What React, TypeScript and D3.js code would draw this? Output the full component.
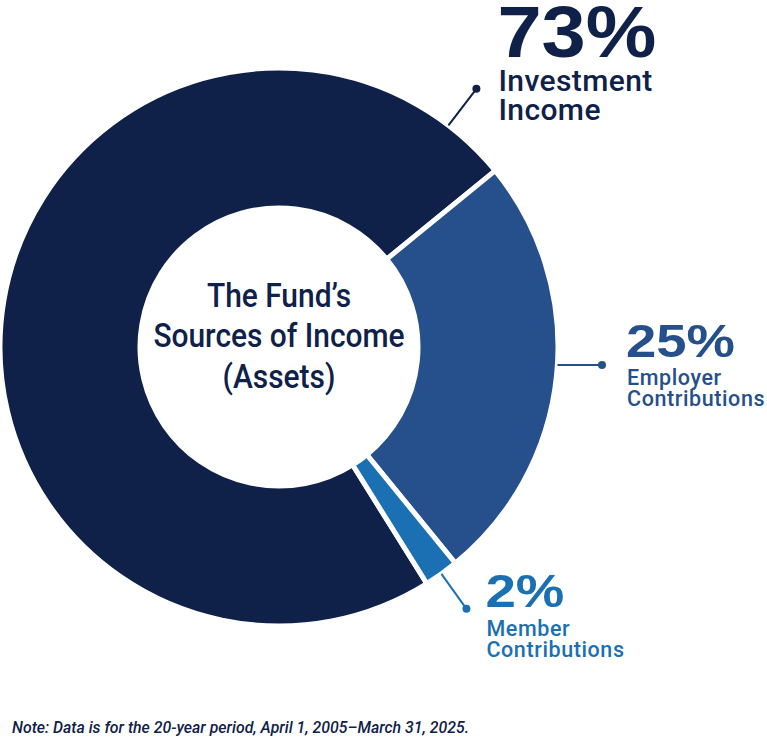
import * as d3 from 'd3';

const categories = ['Investment Income', 'Employer Contributions', 'Member Contributions'];
const labelLines = [['Investment', 'Income'], ['Employer', 'Contributions'], ['Member', 'Contributions']];
const shares = [73, 25, 2];
const colors = ['#0f2149', '#25508c', '#1a70b3'];
const centerTitle = ['The Fund\u2019s', 'Sources of Income', '(Assets)'];
const note = 'Note: Data is for the 20-year period, April 1, 2005\u2013March 31, 2025.';

const W = 767;
const H = 740;
const cx = 279;
const cy = 347;
const outerR = 279;
const innerR = 139;
const deg = Math.PI / 180;

// leader + label layout per slice (pctWidth stretches the wide percent glyphs)
const leaders = [
  { kind: 'radial', angle: 37.4, len: 325, tx: 21, pctY: -32, pctSize: 73, pctWidth: 159, nameSize: 30, nameY: 34, lineGap: 29, nameSpacing: 0.4 },
  { kind: 'horizontal', dy: 18, x: 602, tx: 24, pctY: -8, pctSize: 46, pctWidth: 109, nameSize: 21.5, nameY: 28, lineGap: 20.5, nameSpacing: 0.6 },
  { kind: 'radial', angle: null, len: 322, tx: 19, pctY: -2, pctSize: 46, pctWidth: 79, nameSize: 21.5, nameY: 29, lineGap: 21, nameSpacing: 0.6 },
];

export default function App() {
  const pie = d3.pie<number>().sort(null).value(d => d)
    .startAngle(-212 * deg).endAngle(-212 * deg + 2 * Math.PI);
  const arcs = pie(shares);
  const arc = d3.arc<d3.PieArcDatum<number>>().innerRadius(innerR).outerRadius(outerR);

  const polar = (a: number, r: number): [number, number] => [cx + r * Math.sin(a), cy - r * Math.cos(a)];

  return (
    <svg width={W} height={H} style={{ position: 'absolute', left: 0, top: 0, background: '#fff' }}
      fontFamily="'Liberation Sans', Arial, sans-serif">
      <g transform={`translate(${cx},${cy})`}>
        {arcs.map((a, i) => (
          <path key={categories[i]} d={arc(a) || ''} fill={colors[i]} stroke="#fff" strokeWidth={5} strokeLinejoin="miter" />
        ))}
      </g>
      {arcs.map((a, i) => {
        const L = leaders[i];
        let p0: [number, number];
        let p1: [number, number];
        if (L.kind === 'horizontal') {
          const y = cy + (L.dy as number);
          const x0 = cx + Math.sqrt(outerR * outerR - (L.dy as number) ** 2);
          p0 = [x0, y];
          p1 = [L.x as number, y];
        } else {
          const ang = L.angle == null ? (a.startAngle + a.endAngle) / 2 : (L.angle as number) * deg;
          p0 = polar(ang, outerR);
          p1 = polar(ang, L.len as number);
        }
        const tx = p1[0] + L.tx;
        const pctBase = p1[1] + L.pctY;
        return (
          <g key={categories[i]} fill={colors[i]}>
            <line x1={p0[0]} y1={p0[1]} x2={p1[0]} y2={p1[1]} stroke={colors[i]} strokeWidth={2} />
            <circle cx={p1[0]} cy={p1[1]} r={4} />
            <text x={tx} y={pctBase} fontSize={L.pctSize} fontWeight="bold"
              textLength={L.pctWidth} lengthAdjust="spacingAndGlyphs">
              {d3.format('d')(shares[i])}%
            </text>
            {labelLines[i].map((t, j) => (
              <text key={t} x={tx + 1} y={pctBase + L.nameY + L.lineGap * j}
                fontFamily="Roboto, 'Liberation Sans', sans-serif" fontWeight={500}
                fontSize={L.nameSize} letterSpacing={L.nameSpacing}>
                {t}
              </text>
            ))}
          </g>
        );
      })}
      <g transform={`translate(${cx},0) scale(0.88,1)`} fill="#0f2149" textAnchor="middle" fontSize={34}
        fontFamily="Roboto, 'Liberation Sans', sans-serif" fontWeight={500}>
        {centerTitle.map((t, i) => (
          <text key={t} x={0} y={307 + i * 40.5}>{t}</text>
        ))}
      </g>
      <text x={12} y={733} fontSize={16} fontStyle="italic" fill="#0f2149"
        fontFamily="Roboto, 'Liberation Sans', sans-serif" fontWeight={500}
        textLength={457} lengthAdjust="spacingAndGlyphs">{note}</text>
    </svg>
  );
}
